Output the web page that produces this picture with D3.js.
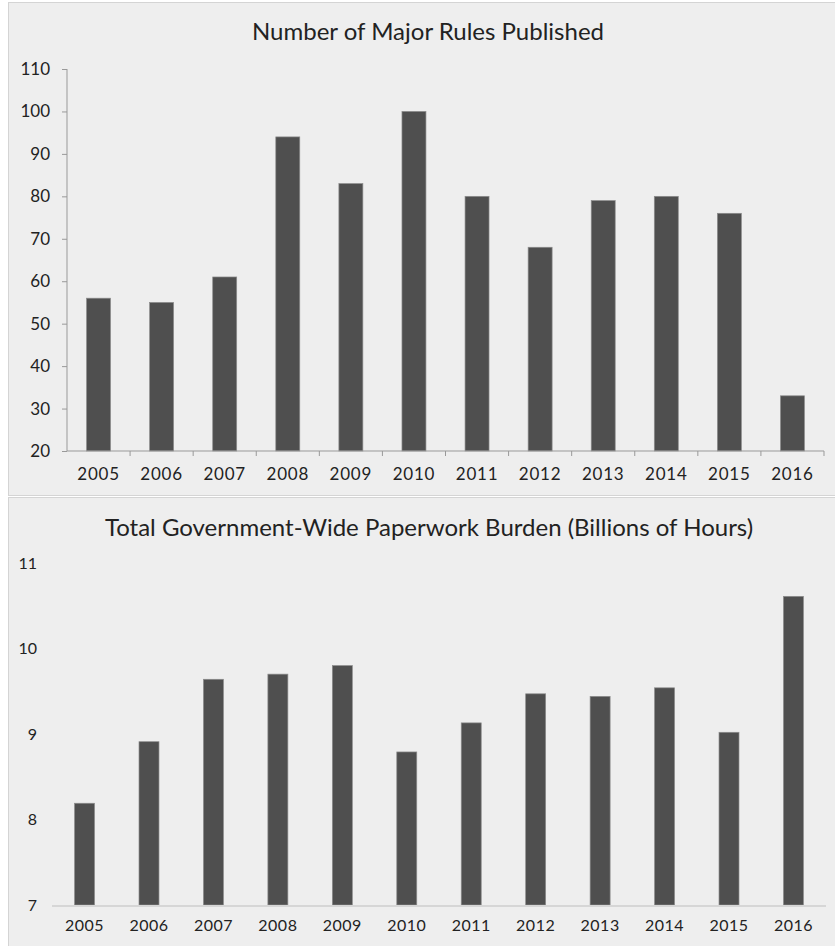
<!DOCTYPE html>
<html>
<head>
<meta charset="utf-8">
<script src="https://cdn.jsdelivr.net/npm/d3@7"></script>
<style>
  body { margin: 0; background: #fff; }
  text { font-family: Lato, "Open Sans", sans-serif; fill: #222; }
</style>
</head>
<body>
<svg id="chart"></svg>
<script>
var years = ["2005", "2006", "2007", "2008", "2009", "2010", "2011", "2012", "2013", "2014", "2015", "2016"];
var majorRules = [56, 55, 61, 94, 83, 100, 80, 68, 79, 80, 76, 33];
var paperwork = [8.19, 8.91, 9.64, 9.70, 9.80, 8.79, 9.13, 9.47, 9.44, 9.54, 9.02, 10.61];
var rulesTicks = [20, 30, 40, 50, 60, 70, 80, 90, 100, 110];
var paperTicks = [7, 8, 9, 10, 11];

var width = 835, height = 946;
var svg = d3.select("#chart").attr("width", width).attr("height", height);

// panels
svg.append("rect").attr("x", 8.5).attr("y", 2.5).attr("width", 830).attr("height", 493)
  .attr("fill", "#eeeeee").attr("stroke", "#d4d4d4");
svg.append("rect").attr("x", 8.5).attr("y", 497.5).attr("width", 830).attr("height", 452)
  .attr("fill", "#eeeeee").attr("stroke", "#d4d4d4");

// ---- top chart: major rules
var chart1 = svg.append("g");
chart1.append("text").attr("x", 428).attr("y", 40).attr("text-anchor", "middle")
  .style("font-size", "24px").text("Number of Major Rules Published");

var x1 = d3.scaleBand().domain(years).range([67, 824]).paddingInner(0.62).paddingOuter(0.31);
var y1 = d3.scaleLinear().domain([20, 110]).range([451, 69]);

var yAxis1 = d3.axisLeft(y1).tickValues(rulesTicks).tickSize(5).tickPadding(12);
var gy1 = chart1.append("g").attr("transform", "translate(67,0)").call(yAxis1);
gy1.select(".domain").attr("stroke", "#999").attr("d", "M0," + y1(110) + "V" + y1(20));
gy1.selectAll(".tick line").attr("stroke", "#999");
gy1.selectAll(".tick text").style("font-size", "17px").attr("fill", "#222");

chart1.selectAll(".bar1").data(years).enter().append("rect")
  .attr("class", "bar1")
  .attr("x", function(d) { return x1(d); })
  .attr("width", x1.bandwidth())
  .attr("y", function(d, i) { return y1(majorRules[i]); })
  .attr("height", function(d, i) { return y1(20) - y1(majorRules[i]); })
  .attr("fill", "#4f4f4f").attr("stroke", "#8c8c8c").attr("stroke-width", 0.7);

// x axis with ticks between bands
var step1 = x1.step();
chart1.append("line").attr("x1", 67).attr("x2", 824).attr("y1", y1(20)).attr("y2", y1(20))
  .attr("stroke", "#999");
chart1.selectAll(".xt1").data(years).enter().append("line")
  .attr("x1", function(d) { return x1(d) + x1.bandwidth() / 2 + step1 / 2; })
  .attr("x2", function(d) { return x1(d) + x1.bandwidth() / 2 + step1 / 2; })
  .attr("y1", y1(20)).attr("y2", y1(20) + 5).attr("stroke", "#999");
chart1.selectAll(".xl1").data(years).enter().append("text")
  .attr("x", function(d) { return x1(d) + x1.bandwidth() / 2; })
  .attr("y", 480).attr("text-anchor", "middle").style("font-size", "17px")
  .style("letter-spacing", "0.8px")
  .text(function(d) { return d; });

// ---- bottom chart: paperwork burden
var chart2 = svg.append("g");
chart2.append("text").attr("x", 429).attr("y", 536).attr("text-anchor", "middle")
  .style("font-size", "24px").text("Total Government-Wide Paperwork Burden (Billions of Hours)");

var x2 = d3.scaleBand().domain(years).range([52, 826]).paddingInner(0.69).paddingOuter(0.35);
var y2 = d3.scaleLinear().domain([7, 11]).range([905, 563]);

var yAxis2 = d3.axisLeft(y2).tickValues(paperTicks).tickFormat(d3.format("d")).tickSize(0).tickPadding(0);
var gy2 = chart2.append("g").attr("transform", "translate(37,0)").call(yAxis2);
gy2.select(".domain").remove();
gy2.selectAll(".tick text").style("font-size", "16px").attr("fill", "#222");

chart2.selectAll(".bar2").data(years).enter().append("rect")
  .attr("class", "bar2")
  .attr("x", function(d) { return x2(d); })
  .attr("width", x2.bandwidth())
  .attr("y", function(d, i) { return y2(paperwork[i]); })
  .attr("height", function(d, i) { return y2(7) - y2(paperwork[i]); })
  .attr("fill", "#4f4f4f").attr("stroke", "#8c8c8c").attr("stroke-width", 0.7);

chart2.append("line").attr("x1", 52).attr("x2", 826).attr("y1", y2(7) + 1).attr("y2", y2(7) + 1)
  .attr("stroke", "#d6d6d6").attr("stroke-width", 2);
chart2.selectAll(".xl2").data(years).enter().append("text")
  .attr("x", function(d) { return x2(d) + x2.bandwidth() / 2; })
  .attr("y", 931).attr("text-anchor", "middle").style("font-size", "16px")
  .style("letter-spacing", "0.5px")
  .text(function(d) { return d; });
</script>
</body>
</html>
